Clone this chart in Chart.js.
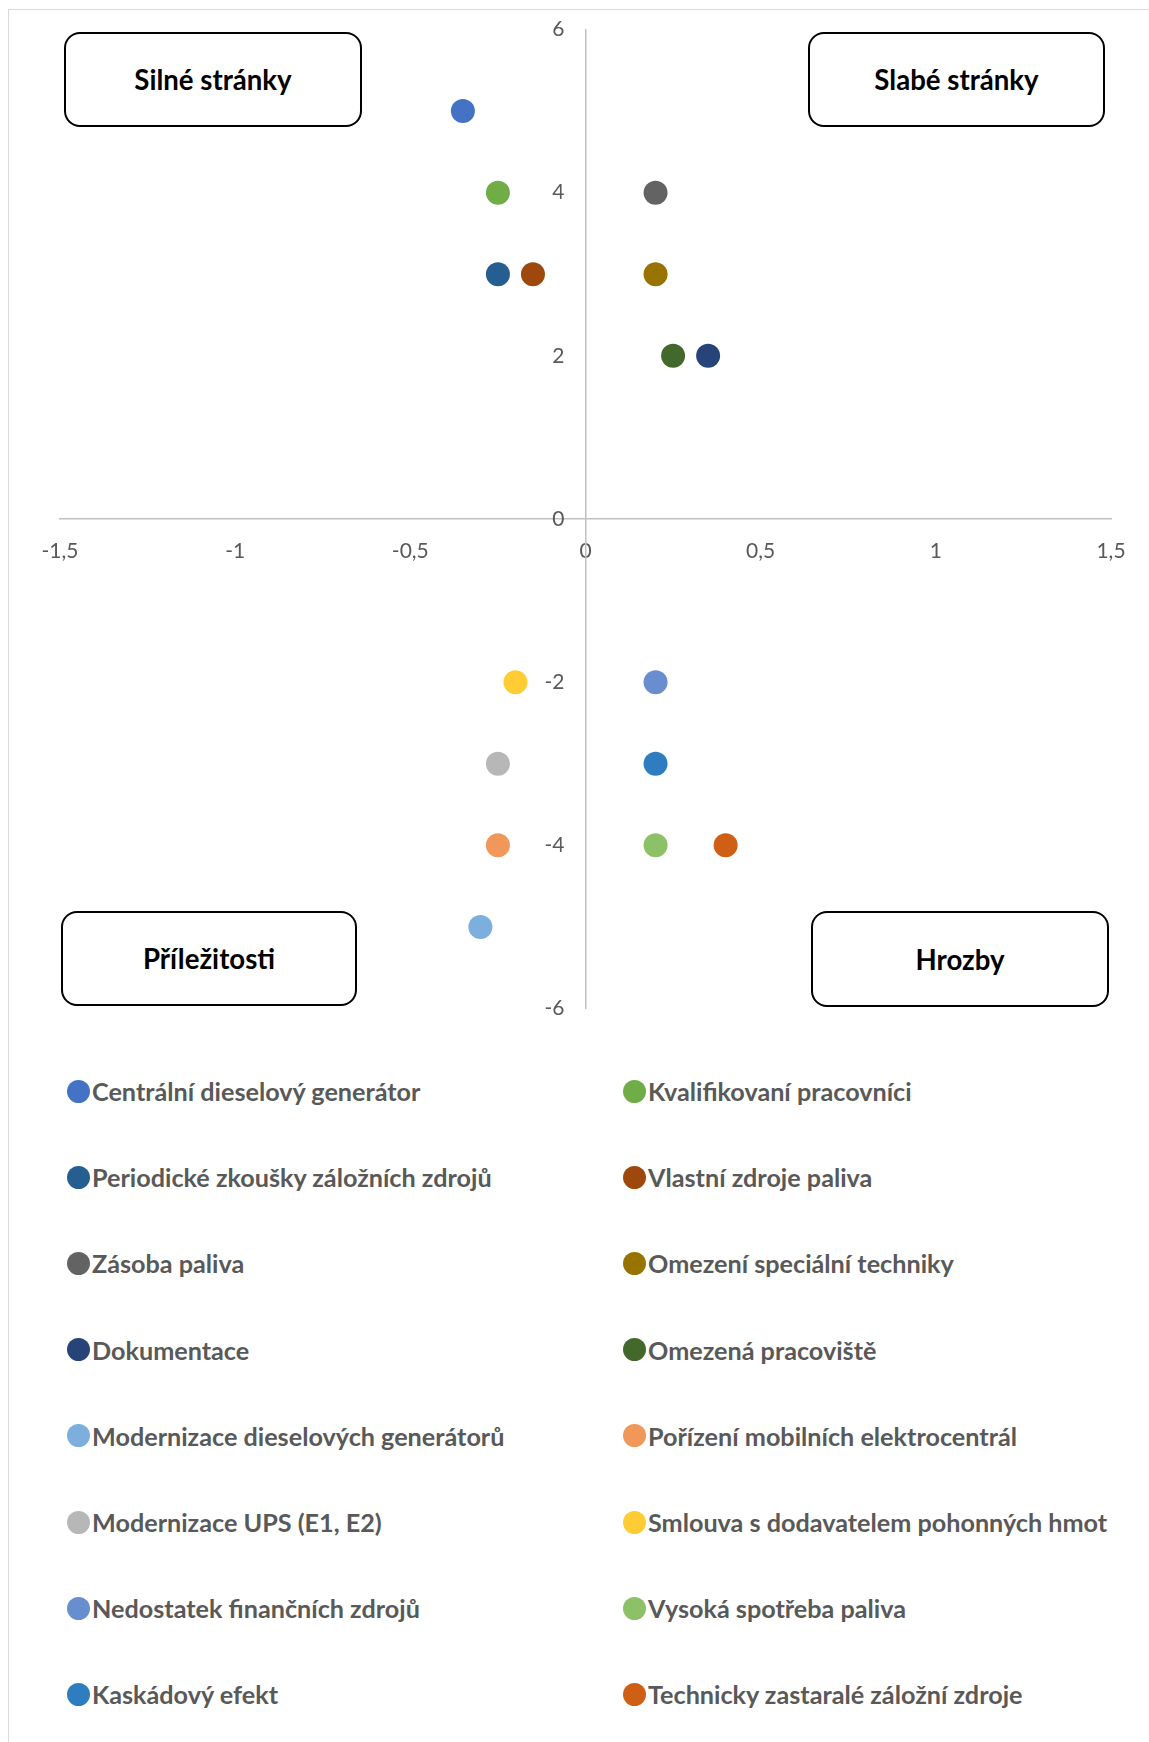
<!DOCTYPE html>
<html>
<head>
<meta charset="utf-8">
<script src="https://cdn.jsdelivr.net/npm/chart.js@4"></script>
<style>
  html, body { margin:0; padding:0; background:#fff; }
  body { width:1149px; height:1742px; position:relative; overflow:hidden; font-family:'Lato', 'Open Sans', sans-serif; }
  #frame { position:absolute; left:8px; top:9px; width:1300px; height:1900px; border:1px solid #d9d9d9; box-sizing:border-box; }
  #wrap { position:absolute; left:0; top:0; width:1149px; height:1040px; }
  .qbox { position:absolute; box-sizing:border-box; border:2.6px solid #000; border-radius:16px; background:#fff;
          display:flex; align-items:center; justify-content:center; font-weight:700; font-size:27.6px; color:#000; }
  #legend { position:absolute; left:0; top:0; width:1149px; }
  .li { position:absolute; display:flex; align-items:center; font-weight:700; font-size:25.2px; color:#595959; white-space:nowrap; height:30px; }
  .li .dot { width:23px; height:23px; border-radius:50%; margin-right:2px; flex:none; }
</style>
</head>
<body>
<div id="frame"></div>
<div id="wrap"><canvas id="c" width="1149" height="1040"></canvas></div>
<div class="qbox" style="left:64px; top:32px; width:298px; height:95px;">Silné stránky</div>
<div class="qbox" style="left:808px; top:32px; width:297px; height:95px;">Slabé stránky</div>
<div class="qbox" style="left:61px; top:911px; width:296px; height:95px;">Příležitosti</div>
<div class="qbox" style="left:811px; top:911px; width:298px; height:96px;">Hrozby</div>
<div id="legend"></div>
<script>
// ---- data ----
const seriesNames = [
  'Centrální dieselový generátor', 'Kvalifikovaní pracovníci',
  'Periodické zkoušky záložních zdrojů', 'Vlastní zdroje paliva',
  'Zásoba paliva', 'Omezení speciální techniky',
  'Dokumentace', 'Omezená pracoviště',
  'Modernizace dieselových generátorů', 'Pořízení mobilních elektrocentrál',
  'Modernizace UPS (E1, E2)', 'Smlouva s dodavatelem pohonných hmot',
  'Nedostatek finančních zdrojů', 'Vysoká spotřeba paliva',
  'Kaskádový efekt', 'Technicky zastaralé záložní zdroje'
];
const xValues = [-0.35, -0.25, -0.25, -0.15, 0.2, 0.2, 0.35, 0.25, -0.3, -0.25, -0.25, -0.2, 0.2, 0.2, 0.2, 0.4];
const yValues = [5, 4, 3, 3, 4, 3, 2, 2, -5, -4, -3, -2, -2, -4, -3, -4];
const seriesColors = [
  '#4472C4', '#70AD47', '#255E91', '#9E480E', '#636363', '#997300', '#264478', '#43682B',
  '#7CAFDD', '#F1975A', '#B7B7B7', '#FFCD33', '#698ED0', '#8CC168', '#2F7DC1', '#CF5F14'
];
const xTickValues = [-1.5, -1, -0.5, 0, 0.5, 1, 1.5];
const xTickLabels = ['-1,5', '-1', '-0,5', '0', '0,5', '1', '1,5'];
const yTickValues = [-6, -4, -2, 0, 2, 4, 6];
const yTickLabels = ['-6', '-4', '-2', '0', '2', '4', '6'];

// ---- chart ----
const datasets = seriesNames.map((name, i) => ({
  label: name,
  data: [{ x: xValues[i], y: yValues[i] }],
  backgroundColor: seriesColors[i],
  borderWidth: 0,
  pointRadius: 12,
  pointHoverRadius: 12
}));

function lookup(vals, labels) {
  return function (v) {
    const k = vals.findIndex(t => Math.abs(t - v) < 1e-9);
    return k >= 0 ? labels[k] : '';
  };
}

const tickFont = { family: 'Lato', size: 21 };
// y tick labels are drawn by a second, border-less y axis placed just left of the main one
const yLabelAxisAt = -0.06;
new Chart(document.getElementById('c'), {
  type: 'scatter',
  data: { datasets },
  options: {
    responsive: false,
    animation: false,
    devicePixelRatio: 1,
    layout: { padding: { left: 60, top: 29.5, right: 38, bottom: 31.5 } },
    plugins: { legend: { display: false }, tooltip: { enabled: false } },
    scales: {
      x: {
        type: 'linear', min: -1.5, max: 1.5, position: { y: 0 },
        grid: { display: false, drawTicks: false },
        border: { display: true, color: '#bfbfbf', width: 1.5 },
        ticks: { stepSize: 0.5, autoSkip: false, maxRotation: 0, padding: 20, color: '#595959', font: tickFont,
                 callback: lookup(xTickValues, xTickLabels) }
      },
      y: {
        type: 'linear', min: -6, max: 6, position: { x: 0 },
        grid: { display: false, drawTicks: false },
        border: { display: true, color: '#bfbfbf', width: 1.5 },
        ticks: { display: false, stepSize: 2 }
      },
      yLabels: {
        type: 'linear', axis: 'y', min: -6, max: 6, position: { x: yLabelAxisAt },
        grid: { display: false, drawTicks: false },
        border: { display: false },
        ticks: { stepSize: 2, autoSkip: false, padding: 0, color: '#595959', font: tickFont,
                 callback: lookup(yTickValues, yTickLabels) }
      }
    }
  }
});

// ---- legend (HTML, two columns) ----
const legend = document.getElementById('legend');
const colX = [67, 623];
const rowY0 = 1091, rowDY = 86.2;
seriesNames.forEach((name, i) => {
  const col = i % 2, row = Math.floor(i / 2);
  const el = document.createElement('div');
  el.className = 'li';
  el.style.left = colX[col] + 'px';
  el.style.top = (rowY0 + row * rowDY - 15) + 'px';
  const dot = document.createElement('span');
  dot.className = 'dot';
  dot.style.background = seriesColors[i];
  const t = document.createElement('span');
  t.textContent = name;
  el.appendChild(dot); el.appendChild(t);
  legend.appendChild(el);
});
</script>
</body>
</html>
